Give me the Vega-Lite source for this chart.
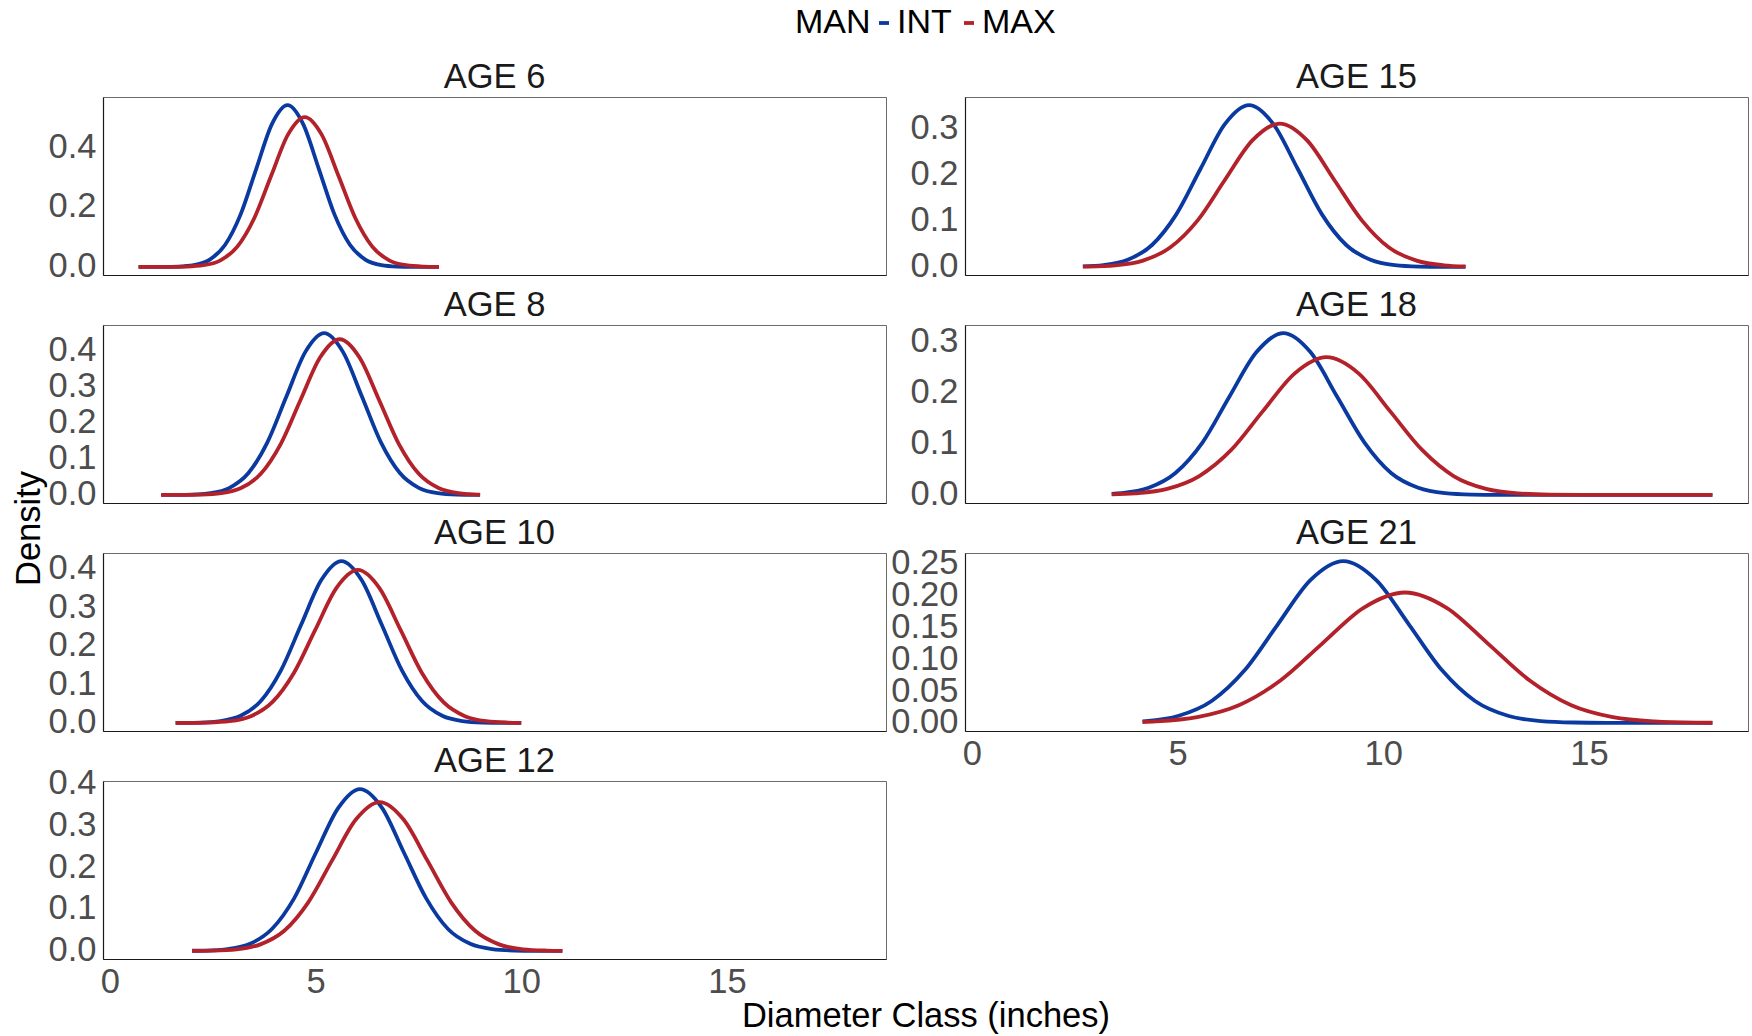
{
"$schema": "https://vega.github.io/schema/vega-lite/v6.json",
"padding": {"left": 10, "top": 6, "right": 0, "bottom": 0},
"background": "white",
"data": {"values": [
{"age":6,"type":"INT","x":0.7,"y":0},{"age":6,"type":"INT","x":1.28,"y":0.0002},{"age":6,"type":"INT","x":1.66,"y":0.0012},{"age":6,"type":"INT","x":2.04,"y":0.006},{"age":6,"type":"INT","x":2.42,"y":0.0237},{"age":6,"type":"INT","x":2.8,"y":0.0731},{"age":6,"type":"INT","x":3.18,"y":0.1753},{"age":6,"type":"INT","x":3.56,"y":0.3275},{"age":6,"type":"INT","x":3.94,"y":0.4766},{"age":6,"type":"INT","x":4.32,"y":0.54},{"age":6,"type":"INT","x":4.7,"y":0.4766},{"age":6,"type":"INT","x":5.08,"y":0.3275},{"age":6,"type":"INT","x":5.46,"y":0.1753},{"age":6,"type":"INT","x":5.84,"y":0.0731},{"age":6,"type":"INT","x":6.22,"y":0.0237},{"age":6,"type":"INT","x":6.6,"y":0.006},{"age":6,"type":"INT","x":6.98,"y":0.0012},{"age":6,"type":"INT","x":7.36,"y":0.0002},{"age":6,"type":"INT","x":8.0,"y":0},
{"age":8,"type":"INT","x":1.25,"y":0},{"age":8,"type":"INT","x":1.53,"y":0.0002},{"age":8,"type":"INT","x":1.99,"y":0.001},{"age":8,"type":"INT","x":2.45,"y":0.005},{"age":8,"type":"INT","x":2.91,"y":0.0196},{"age":8,"type":"INT","x":3.37,"y":0.0605},{"age":8,"type":"INT","x":3.83,"y":0.1451},{"age":8,"type":"INT","x":4.29,"y":0.2711},{"age":8,"type":"INT","x":4.75,"y":0.3945},{"age":8,"type":"INT","x":5.21,"y":0.447},{"age":8,"type":"INT","x":5.67,"y":0.3945},{"age":8,"type":"INT","x":6.13,"y":0.2711},{"age":8,"type":"INT","x":6.59,"y":0.1451},{"age":8,"type":"INT","x":7.05,"y":0.0605},{"age":8,"type":"INT","x":7.51,"y":0.0196},{"age":8,"type":"INT","x":7.97,"y":0.005},{"age":8,"type":"INT","x":8.43,"y":0.001},{"age":8,"type":"INT","x":8.89,"y":0.0002},{"age":8,"type":"INT","x":9.0,"y":0},
{"age":10,"type":"INT","x":1.6,"y":0},{"age":10,"type":"INT","x":1.71,"y":0.0001},{"age":10,"type":"INT","x":2.2,"y":0.0009},{"age":10,"type":"INT","x":2.69,"y":0.0047},{"age":10,"type":"INT","x":3.18,"y":0.0184},{"age":10,"type":"INT","x":3.67,"y":0.0568},{"age":10,"type":"INT","x":4.16,"y":0.1364},{"age":10,"type":"INT","x":4.65,"y":0.2547},{"age":10,"type":"INT","x":5.14,"y":0.3707},{"age":10,"type":"INT","x":5.63,"y":0.42},{"age":10,"type":"INT","x":6.12,"y":0.3707},{"age":10,"type":"INT","x":6.61,"y":0.2547},{"age":10,"type":"INT","x":7.1,"y":0.1364},{"age":10,"type":"INT","x":7.59,"y":0.0568},{"age":10,"type":"INT","x":8.08,"y":0.0184},{"age":10,"type":"INT","x":8.57,"y":0.0047},{"age":10,"type":"INT","x":9.06,"y":0.0009},{"age":10,"type":"INT","x":9.55,"y":0.0001},{"age":10,"type":"INT","x":10.0,"y":0},
{"age":12,"type":"INT","x":2.0,"y":0.0003},{"age":12,"type":"INT","x":2.34,"y":0.0008},{"age":12,"type":"INT","x":2.87,"y":0.0043},{"age":12,"type":"INT","x":3.41,"y":0.0169},{"age":12,"type":"INT","x":3.94,"y":0.0522},{"age":12,"type":"INT","x":4.48,"y":0.1253},{"age":12,"type":"INT","x":5.01,"y":0.2341},{"age":12,"type":"INT","x":5.55,"y":0.3406},{"age":12,"type":"INT","x":6.08,"y":0.386},{"age":12,"type":"INT","x":6.62,"y":0.3406},{"age":12,"type":"INT","x":7.15,"y":0.2341},{"age":12,"type":"INT","x":7.69,"y":0.1253},{"age":12,"type":"INT","x":8.22,"y":0.0522},{"age":12,"type":"INT","x":8.76,"y":0.0169},{"age":12,"type":"INT","x":9.29,"y":0.0043},{"age":12,"type":"INT","x":9.83,"y":0.0008},{"age":12,"type":"INT","x":10.36,"y":0.0001},{"age":12,"type":"INT","x":11.0,"y":0},
{"age":15,"type":"INT","x":2.7,"y":0.001},{"age":15,"type":"INT","x":3.2,"y":0.0039},{"age":15,"type":"INT","x":3.79,"y":0.0154},{"age":15,"type":"INT","x":4.38,"y":0.0474},{"age":15,"type":"INT","x":4.97,"y":0.1136},{"age":15,"type":"INT","x":5.56,"y":0.2123},{"age":15,"type":"INT","x":6.15,"y":0.3089},{"age":15,"type":"INT","x":6.74,"y":0.35},{"age":15,"type":"INT","x":7.33,"y":0.3089},{"age":15,"type":"INT","x":7.92,"y":0.2123},{"age":15,"type":"INT","x":8.51,"y":0.1136},{"age":15,"type":"INT","x":9.1,"y":0.0474},{"age":15,"type":"INT","x":9.69,"y":0.0154},{"age":15,"type":"INT","x":10.28,"y":0.0039},{"age":15,"type":"INT","x":10.87,"y":0.0008},{"age":15,"type":"INT","x":11.46,"y":0.0001},{"age":15,"type":"INT","x":12.0,"y":0},
{"age":18,"type":"INT","x":3.4,"y":0.002},{"age":18,"type":"INT","x":3.64,"y":0.0035},{"age":18,"type":"INT","x":4.3,"y":0.0139},{"age":18,"type":"INT","x":4.95,"y":0.0428},{"age":18,"type":"INT","x":5.61,"y":0.1026},{"age":18,"type":"INT","x":6.26,"y":0.1917},{"age":18,"type":"INT","x":6.92,"y":0.2789},{"age":18,"type":"INT","x":7.57,"y":0.316},{"age":18,"type":"INT","x":8.23,"y":0.2789},{"age":18,"type":"INT","x":8.88,"y":0.1917},{"age":18,"type":"INT","x":9.54,"y":0.1026},{"age":18,"type":"INT","x":10.19,"y":0.0428},{"age":18,"type":"INT","x":10.85,"y":0.0139},{"age":18,"type":"INT","x":11.5,"y":0.0035},{"age":18,"type":"INT","x":12.16,"y":0.0007},{"age":18,"type":"INT","x":12.81,"y":0.0001},{"age":18,"type":"INT","x":14.0,"y":0},{"age":18,"type":"INT","x":18.0,"y":0},
{"age":21,"type":"INT","x":4.15,"y":0.0024},{"age":21,"type":"INT","x":4.23,"y":0.0028},{"age":21,"type":"INT","x":5.03,"y":0.0112},{"age":21,"type":"INT","x":5.83,"y":0.0344},{"age":21,"type":"INT","x":6.63,"y":0.0825},{"age":21,"type":"INT","x":7.43,"y":0.154},{"age":21,"type":"INT","x":8.23,"y":0.2242},{"age":21,"type":"INT","x":9.03,"y":0.254},{"age":21,"type":"INT","x":9.83,"y":0.2242},{"age":21,"type":"INT","x":10.63,"y":0.154},{"age":21,"type":"INT","x":11.43,"y":0.0825},{"age":21,"type":"INT","x":12.23,"y":0.0344},{"age":21,"type":"INT","x":13.03,"y":0.0112},{"age":21,"type":"INT","x":13.83,"y":0.0028},{"age":21,"type":"INT","x":14.63,"y":0.0006},{"age":21,"type":"INT","x":15.43,"y":0.0001},{"age":21,"type":"INT","x":16.5,"y":0},{"age":21,"type":"INT","x":18.0,"y":0},
{"age":6,"type":"MAX","x":0.7,"y":0},{"age":6,"type":"MAX","x":1.46,"y":0.0002},{"age":6,"type":"MAX","x":1.87,"y":0.0011},{"age":6,"type":"MAX","x":2.28,"y":0.0056},{"age":6,"type":"MAX","x":2.69,"y":0.022},{"age":6,"type":"MAX","x":3.1,"y":0.0677},{"age":6,"type":"MAX","x":3.51,"y":0.1624},{"age":6,"type":"MAX","x":3.92,"y":0.3033},{"age":6,"type":"MAX","x":4.33,"y":0.4413},{"age":6,"type":"MAX","x":4.74,"y":0.5},{"age":6,"type":"MAX","x":5.15,"y":0.4413},{"age":6,"type":"MAX","x":5.56,"y":0.3033},{"age":6,"type":"MAX","x":5.97,"y":0.1624},{"age":6,"type":"MAX","x":6.38,"y":0.0677},{"age":6,"type":"MAX","x":6.79,"y":0.022},{"age":6,"type":"MAX","x":7.2,"y":0.0056},{"age":6,"type":"MAX","x":7.61,"y":0.0011},{"age":6,"type":"MAX","x":8.0,"y":0.0002},
{"age":8,"type":"MAX","x":1.25,"y":0},{"age":8,"type":"MAX","x":1.75,"y":0.0001},{"age":8,"type":"MAX","x":2.23,"y":0.0009},{"age":8,"type":"MAX","x":2.71,"y":0.0048},{"age":8,"type":"MAX","x":3.19,"y":0.0189},{"age":8,"type":"MAX","x":3.67,"y":0.0582},{"age":8,"type":"MAX","x":4.15,"y":0.1396},{"age":8,"type":"MAX","x":4.63,"y":0.2608},{"age":8,"type":"MAX","x":5.11,"y":0.3795},{"age":8,"type":"MAX","x":5.59,"y":0.43},{"age":8,"type":"MAX","x":6.07,"y":0.3795},{"age":8,"type":"MAX","x":6.55,"y":0.2608},{"age":8,"type":"MAX","x":7.03,"y":0.1396},{"age":8,"type":"MAX","x":7.51,"y":0.0582},{"age":8,"type":"MAX","x":7.99,"y":0.0189},{"age":8,"type":"MAX","x":8.47,"y":0.0048},{"age":8,"type":"MAX","x":8.95,"y":0.0009},{"age":8,"type":"MAX","x":9.0,"y":0.0008},
{"age":10,"type":"MAX","x":1.6,"y":0},{"age":10,"type":"MAX","x":1.87,"y":0.0001},{"age":10,"type":"MAX","x":2.39,"y":0.0009},{"age":10,"type":"MAX","x":2.91,"y":0.0044},{"age":10,"type":"MAX","x":3.43,"y":0.0174},{"age":10,"type":"MAX","x":3.95,"y":0.0537},{"age":10,"type":"MAX","x":4.47,"y":0.1289},{"age":10,"type":"MAX","x":4.99,"y":0.2408},{"age":10,"type":"MAX","x":5.51,"y":0.3504},{"age":10,"type":"MAX","x":6.03,"y":0.397},{"age":10,"type":"MAX","x":6.55,"y":0.3504},{"age":10,"type":"MAX","x":7.07,"y":0.2408},{"age":10,"type":"MAX","x":7.59,"y":0.1289},{"age":10,"type":"MAX","x":8.11,"y":0.0537},{"age":10,"type":"MAX","x":8.63,"y":0.0174},{"age":10,"type":"MAX","x":9.15,"y":0.0044},{"age":10,"type":"MAX","x":9.67,"y":0.0009},{"age":10,"type":"MAX","x":10.0,"y":0.0003},
{"age":12,"type":"MAX","x":2.0,"y":0.0002},{"age":12,"type":"MAX","x":2.5,"y":0.0008},{"age":12,"type":"MAX","x":3.08,"y":0.0039},{"age":12,"type":"MAX","x":3.66,"y":0.0156},{"age":12,"type":"MAX","x":4.24,"y":0.048},{"age":12,"type":"MAX","x":4.82,"y":0.1153},{"age":12,"type":"MAX","x":5.4,"y":0.2153},{"age":12,"type":"MAX","x":5.98,"y":0.3133},{"age":12,"type":"MAX","x":6.56,"y":0.355},{"age":12,"type":"MAX","x":7.14,"y":0.3133},{"age":12,"type":"MAX","x":7.72,"y":0.2153},{"age":12,"type":"MAX","x":8.3,"y":0.1153},{"age":12,"type":"MAX","x":8.88,"y":0.048},{"age":12,"type":"MAX","x":9.46,"y":0.0156},{"age":12,"type":"MAX","x":10.04,"y":0.0039},{"age":12,"type":"MAX","x":10.62,"y":0.0008},{"age":12,"type":"MAX","x":11.0,"y":0.0002},
{"age":15,"type":"MAX","x":2.7,"y":0.0005},{"age":15,"type":"MAX","x":2.83,"y":0.0007},{"age":15,"type":"MAX","x":3.49,"y":0.0034},{"age":15,"type":"MAX","x":4.16,"y":0.0136},{"age":15,"type":"MAX","x":4.82,"y":0.0419},{"age":15,"type":"MAX","x":5.49,"y":0.1007},{"age":15,"type":"MAX","x":6.15,"y":0.188},{"age":15,"type":"MAX","x":6.82,"y":0.2736},{"age":15,"type":"MAX","x":7.48,"y":0.31},{"age":15,"type":"MAX","x":8.15,"y":0.2736},{"age":15,"type":"MAX","x":8.81,"y":0.188},{"age":15,"type":"MAX","x":9.48,"y":0.1007},{"age":15,"type":"MAX","x":10.14,"y":0.0419},{"age":15,"type":"MAX","x":10.81,"y":0.0136},{"age":15,"type":"MAX","x":11.47,"y":0.0034},{"age":15,"type":"MAX","x":12.0,"y":0.001},
{"age":18,"type":"MAX","x":3.4,"y":0.0009},{"age":18,"type":"MAX","x":3.97,"y":0.003},{"age":18,"type":"MAX","x":4.75,"y":0.0118},{"age":18,"type":"MAX","x":5.52,"y":0.0364},{"age":18,"type":"MAX","x":6.3,"y":0.0873},{"age":18,"type":"MAX","x":7.07,"y":0.1631},{"age":18,"type":"MAX","x":7.85,"y":0.2374},{"age":18,"type":"MAX","x":8.62,"y":0.269},{"age":18,"type":"MAX","x":9.4,"y":0.2374},{"age":18,"type":"MAX","x":10.17,"y":0.1631},{"age":18,"type":"MAX","x":10.95,"y":0.0873},{"age":18,"type":"MAX","x":11.72,"y":0.0364},{"age":18,"type":"MAX","x":12.5,"y":0.0118},{"age":18,"type":"MAX","x":13.27,"y":0.003},{"age":18,"type":"MAX","x":14.05,"y":0.0006},{"age":18,"type":"MAX","x":14.82,"y":0.0001},{"age":18,"type":"MAX","x":16.0,"y":0},{"age":18,"type":"MAX","x":18.0,"y":0},
{"age":21,"type":"MAX","x":4.15,"y":0.0014},{"age":21,"type":"MAX","x":4.47,"y":0.0023},{"age":21,"type":"MAX","x":5.48,"y":0.009},{"age":21,"type":"MAX","x":6.49,"y":0.0277},{"age":21,"type":"MAX","x":7.5,"y":0.0665},{"age":21,"type":"MAX","x":8.51,"y":0.1241},{"age":21,"type":"MAX","x":9.52,"y":0.1806},{"age":21,"type":"MAX","x":10.53,"y":0.2047},{"age":21,"type":"MAX","x":11.54,"y":0.1806},{"age":21,"type":"MAX","x":12.55,"y":0.1241},{"age":21,"type":"MAX","x":13.56,"y":0.0665},{"age":21,"type":"MAX","x":14.57,"y":0.0277},{"age":21,"type":"MAX","x":15.58,"y":0.009},{"age":21,"type":"MAX","x":16.59,"y":0.0023},{"age":21,"type":"MAX","x":17.6,"y":0.0004},{"age":21,"type":"MAX","x":18.0,"y":0.0002}
]},
"config": {
  "font": "Liberation Sans",
  "view": {"stroke": "#6b6b6b", "strokeWidth": 1},
  "axis": {"labelFont": "Liberation Sans", "labelFontSize": 34.5, "labelColor": "#4d4d4d", "ticks": false, "grid": false, "domain": true, "domainColor": "#1a1a1a", "domainWidth": 1.2, "labelOverlap": false, "labelFlush": false, "titleFont": "Liberation Sans", "titleFontSize": 34.5, "titleFontWeight": "normal", "titleColor": "#000000"},
  "title": {"font": "Liberation Sans", "fontSize": 34.5, "fontWeight": "normal", "color": "#1a1a1a", "anchor": "middle", "offset": 1.5},
  "line": {"strokeWidth": 3.8, "interpolate": "monotone", "strokeCap": "butt"}
},
"resolve": {"scale": {"y": "independent", "x": "independent"}},
"bounds": "flush",
"columns": 2,
"spacing": {"row": 50, "column": 79},
"concat": [
  {"width": 783, "height": 178, "title": {"text": "AGE 6"}, "transform": [{"filter": "datum.age == 6"}], "mark": "line",
   "encoding": {
    "x": {"field": "x", "type": "quantitative", "scale": {"domain": [-0.165, 18.865], "nice": false, "zero": false}, "axis": {"labels": false, "title": null}},
    "y": {"field": "y", "type": "quantitative", "scale": {"padding": 8.1, "nice": false, "zero": false}, "axis": {"values": [0, 0.2, 0.4], "format": ".1f", "title": null, "labelPadding": 7}},
    "color": {"field": "type", "type": "nominal", "scale": {"domain": ["INT", "MAX"], "range": ["#0a3aa0", "#b3222a"]},
      "legend": {"orient": "none", "legendX": 692, "legendY": -91, "direction": "horizontal", "title": "MAN", "titleOrient": "left", "symbolType": "stroke", "symbolStrokeWidth": 4, "symbolSize": 100, "labelFontSize": 34, "titleFontSize": 34, "titleFontWeight": "normal", "labelColor": "#000000", "titleColor": "#000000", "titlePadding": -4, "labelOffset": -4, "columnPadding": -5, "padding": 0, "labelFont": "Liberation Sans", "titleFont": "Liberation Sans"}}
   }},
  {"width": 783, "height": 178, "title": {"text": "AGE 15"}, "transform": [{"filter": "datum.age == 15"}], "mark": "line",
   "encoding": {
    "x": {"field": "x", "type": "quantitative", "scale": {"domain": [-0.165, 18.865], "nice": false, "zero": false}, "axis": {"labels": false, "title": null}},
    "y": {"field": "y", "type": "quantitative", "scale": {"padding": 8.1, "nice": false, "zero": false}, "axis": {"values": [0, 0.1, 0.2, 0.3], "format": ".1f", "title": null, "labelPadding": 7}},
    "color": {"field": "type", "type": "nominal"}
   }},
  {"width": 783, "height": 178, "title": {"text": "AGE 8"}, "transform": [{"filter": "datum.age == 8"}], "mark": "line",
   "encoding": {
    "x": {"field": "x", "type": "quantitative", "scale": {"domain": [-0.165, 18.865], "nice": false, "zero": false}, "axis": {"labels": false, "title": null}},
    "y": {"field": "y", "type": "quantitative", "scale": {"padding": 8.1, "nice": false, "zero": false}, "axis": {"values": [0, 0.1, 0.2, 0.3, 0.4], "format": ".1f", "title": "Density", "titleY": 203, "titlePadding": 2, "labelPadding": 7}},
    "color": {"field": "type", "type": "nominal"}
   }},
  {"width": 783, "height": 178, "title": {"text": "AGE 18", "dy": 2}, "transform": [{"filter": "datum.age == 18"}], "mark": "line",
   "encoding": {
    "x": {"field": "x", "type": "quantitative", "scale": {"domain": [-0.165, 18.865], "nice": false, "zero": false}, "axis": {"labels": false, "title": null}},
    "y": {"field": "y", "type": "quantitative", "scale": {"padding": 8.1, "nice": false, "zero": false}, "axis": {"values": [0, 0.1, 0.2, 0.3], "format": ".1f", "title": null, "labelPadding": 7}},
    "color": {"field": "type", "type": "nominal"}
   }},
  {"width": 783, "height": 178, "title": {"text": "AGE 10", "dy": 2}, "transform": [{"filter": "datum.age == 10"}], "mark": "line",
   "encoding": {
    "x": {"field": "x", "type": "quantitative", "scale": {"domain": [-0.165, 18.865], "nice": false, "zero": false}, "axis": {"labels": false, "title": null}},
    "y": {"field": "y", "type": "quantitative", "scale": {"padding": 8.1, "nice": false, "zero": false}, "axis": {"values": [0, 0.1, 0.2, 0.3, 0.4], "format": ".1f", "title": null, "labelPadding": 7}},
    "color": {"field": "type", "type": "nominal"}
   }},
  {"width": 783, "height": 178, "title": {"text": "AGE 21", "dy": 7}, "transform": [{"filter": "datum.age == 21"}], "mark": "line",
   "encoding": {
    "x": {"field": "x", "type": "quantitative", "scale": {"domain": [-0.165, 18.865], "nice": false, "zero": false}, "axis": {"values": [0, 5, 10, 15], "labelPadding": 6, "title": null}},
    "y": {"field": "y", "type": "quantitative", "scale": {"padding": 8.1, "nice": false, "zero": false}, "axis": {"values": [0, 0.05, 0.1, 0.15, 0.2, 0.25], "format": ".2f", "title": null, "labelPadding": 7}},
    "color": {"field": "type", "type": "nominal"}
   }},
  {"width": 783, "height": 178, "title": {"text": "AGE 12", "dy": 16}, "transform": [{"filter": "datum.age == 12"}], "mark": "line",
   "encoding": {
    "x": {"field": "x", "type": "quantitative", "scale": {"domain": [-0.165, 18.865], "nice": false, "zero": false}, "axis": {"values": [0, 5, 10, 15], "labelPadding": 6, "title": "Diameter Class (inches)", "titleX": 822.5, "titlePadding": 1}},
    "y": {"field": "y", "type": "quantitative", "scale": {"padding": 8.1, "nice": false, "zero": false}, "axis": {"values": [0, 0.1, 0.2, 0.3, 0.4], "format": ".1f", "title": null, "labelPadding": 7}},
    "color": {"field": "type", "type": "nominal"}
   }}
]
}
